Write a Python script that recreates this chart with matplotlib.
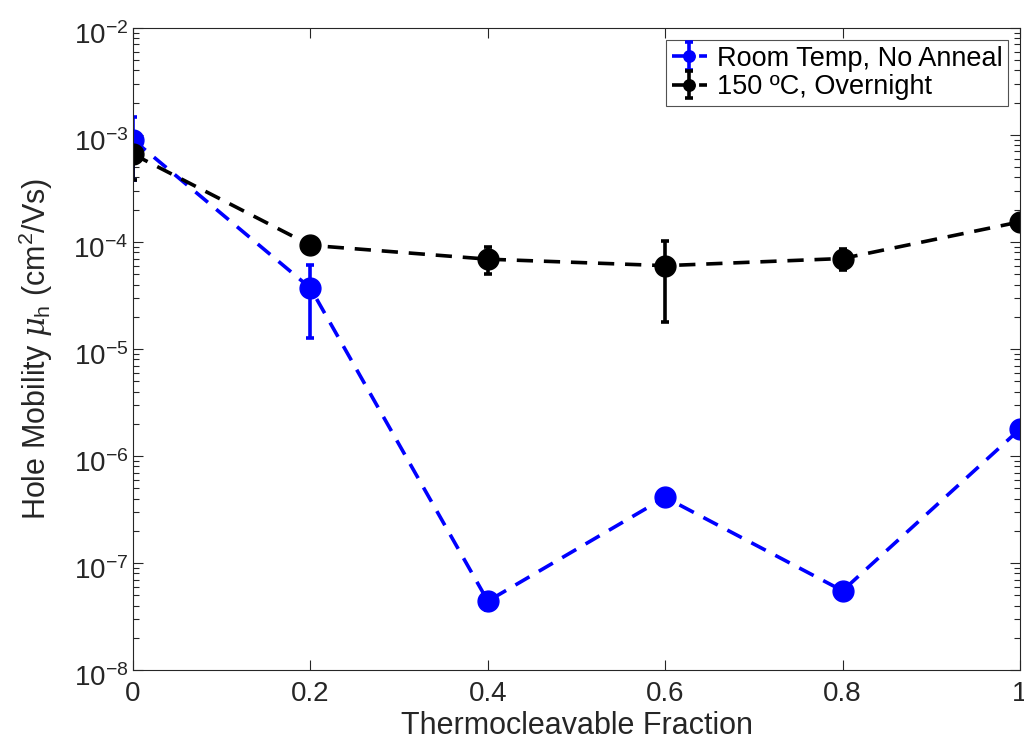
import numpy as np
import matplotlib
matplotlib.use('Agg')
import matplotlib.pyplot as plt
from matplotlib.ticker import LogLocator, FixedLocator, FixedFormatter
from matplotlib.transforms import ScaledTranslation

plt.rcParams['font.family'] = ['Liberation Sans', 'DejaVu Sans']
plt.rcParams['mathtext.fontset'] = 'custom'
plt.rcParams['mathtext.rm'] = 'Liberation Sans'
plt.rcParams['mathtext.it'] = 'DejaVu Serif:italic'

# данные
fraction = [0, 0.2, 0.4, 0.6, 0.8, 1.0]
rt_mu = [9.0e-4, 3.7e-5, 4.4e-8, 4.1e-7, 5.5e-8, 1.78e-6]
rt_lo = [3.8e-4, 1.26e-5, 3.6e-8, 3.8e-7, 5.0e-8, 1.7e-6]
rt_hi = [1.48e-3, 6.1e-5, 5.2e-8, 4.4e-7, 6.0e-8, 1.86e-6]
an_mu = [6.6e-4, 9.3e-5, 6.9e-5, 6.0e-5, 7.0e-5, 1.54e-4]
an_lo = [3.8e-4, 8.8e-5, 5.0e-5, 1.78e-5, 5.5e-5, 1.49e-4]
an_hi = [9.3e-4, 9.8e-5, 8.9e-5, 1.02e-4, 8.6e-5, 1.59e-4]
xtick_labels = ['0', '0.2', '0.4', '0.6', '0.8', '1']

fig = plt.figure(figsize=(10.24, 7.44), dpi=100)
ax = fig.add_axes([0.13, 0.0995, 0.866, 0.863])

rt_err = [np.array(rt_mu) - np.array(rt_lo), np.array(rt_hi) - np.array(rt_mu)]
an_err = [np.array(an_mu) - np.array(an_lo), np.array(an_hi) - np.array(an_mu)]

dash = (0, (4.5, 3))
ax.errorbar(fraction, rt_mu, yerr=rt_err, color='#0000ff', ls=dash, lw=2.6,
            marker='o', ms=15, capsize=3, capthick=2.6, elinewidth=2.6,
            label='Room Temp, No Anneal')
ax.errorbar(fraction, an_mu, yerr=an_err, color='black', ls=dash, lw=2.6,
            marker='o', ms=15, capsize=3, capthick=2.6, elinewidth=2.6,
            label='150 \u00baC, Overnight')

ax.set_yscale('log')
ax.set_xlim(0, 1)
ax.set_ylim(1e-8, 1e-2)
ax.xaxis.set_major_locator(FixedLocator(fraction))
ax.xaxis.set_major_formatter(FixedFormatter(xtick_labels))
ax.yaxis.set_major_locator(LogLocator(base=10, numticks=10))
ax.yaxis.set_minor_locator(LogLocator(base=10, subs=np.arange(2, 10), numticks=20))

ax.tick_params(which='both', direction='in', top=True, right=True, labelsize=20,
               color='#262626', labelcolor='#262626')
ax.tick_params(which='major', length=7, width=0.8)
ax.tick_params(which='minor', length=4, width=0.8)
ax.tick_params(axis='x', pad=8)
for s in ax.spines.values():
    s.set_linewidth(0.8)
    s.set_color('#262626')

# сдвиг подписей оси y чуть вниз, как в оригинале
shift = ScaledTranslation(0, -4 / 72, fig.dpi_scale_trans)
for lbl in ax.get_yticklabels():
    lbl.set_transform(lbl.get_transform() + shift)

ax.set_xlabel('Thermocleavable Fraction', fontsize=22, color='#262626', labelpad=3)
ax.set_ylabel('Hole Mobility $\\mathit{\\mu}_\\mathrm{h}$ (cm$^2$/Vs)', fontsize=22,
              color='#262626', labelpad=13)

leg = ax.legend(loc='upper right', fontsize=19.5, frameon=True, fancybox=False,
                borderaxespad=0.45, handlelength=1.3, handletextpad=0.35,
                borderpad=0.2, labelspacing=0.1, markerscale=0.55)
leg.get_frame().set_edgecolor('#262626')
leg.get_frame().set_linewidth(0.8)

fig.savefig('out.png', dpi=100)
